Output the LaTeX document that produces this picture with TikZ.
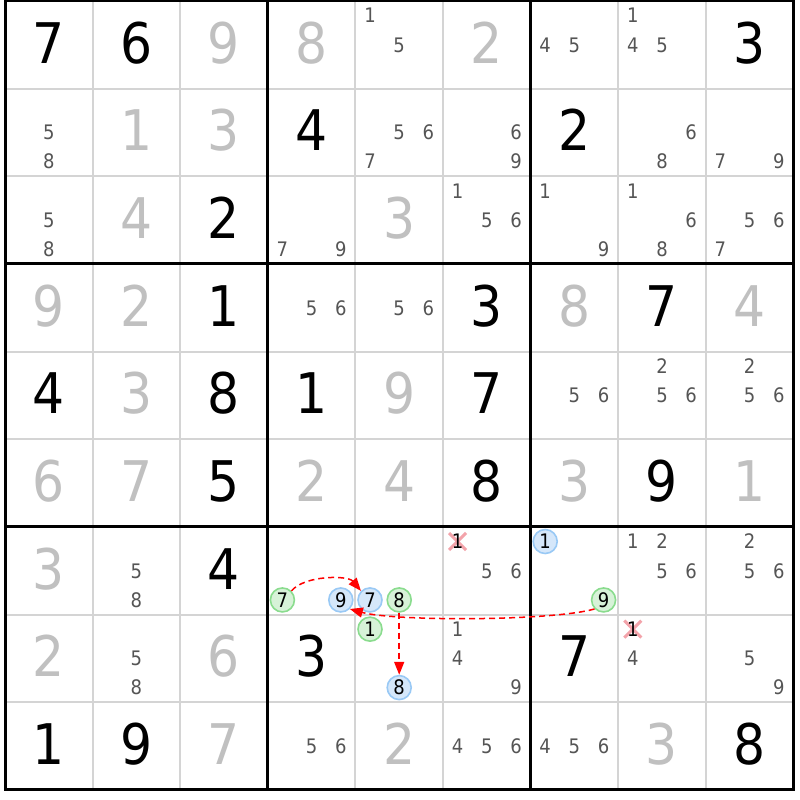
\documentclass[tikz,border=0pt]{standalone}
\usepackage{fontspec}
\setmainfont{DejaVu Sans Condensed}
\usetikzlibrary{arrows.meta,shapes.misc}

\definecolor{solvedgray}{HTML}{C0C0C0}
\definecolor{candgray}{HTML}{555555}
\definecolor{thingray}{HTML}{D4D4D4}
\definecolor{blueline}{HTML}{99C9F5}
\definecolor{bluefill}{HTML}{D5E7FA}
\definecolor{greenline}{HTML}{8ADC8E}
\definecolor{greenfill}{HTML}{D7F2D8}
\definecolor{crosspink}{HTML}{F3A3AA}

\tikzset{
  given/.style={inner sep=0pt, text height=40.8pt, text depth=0pt,
    font=\fontsize{56}{56}\selectfont, yshift=2pt},
  solved/.style={given, text=solvedgray},
  cand/.style={inner sep=0pt, text height=14.6pt, text depth=0pt,
    font=\fontsize{20}{20}\selectfont, text=candgray},
  ringcand/.style={cand, text=black, circle, minimum size=24pt, line width=1.6pt},
  bluecand/.style={ringcand, draw=blueline, fill=bluefill},
  greencand/.style={ringcand, draw=greenline, fill=greenfill},
  crossmark/.style={cross out, draw=crosspink, line width=3pt, inner sep=0pt, minimum size=14pt},
  link/.style={red, line width=1.5pt, dash pattern=on 6pt off 4pt,
    -{Triangle[length=13pt,width=10pt]}}
}

\begin{document}
\begin{tikzpicture}[x=1pt, y=-1pt]
    \useasboundingbox[fill=white] (0, 0) rectangle (800, 800);

    \begin{scope}[shift={(5pt,-1pt)}, x=87.6pt, y=-87.65pt]

    \foreach \i in {1,2,4,5,7,8} {
        \draw[thingray, line width=2pt] (\i, 0) -- (\i, 9);
        \draw[thingray, line width=2pt] (0, \i) -- (9, \i);
    }
    \foreach \i in {3,6} {
        \draw[line width=3pt] (\i, 0) -- (\i, 9);
        \draw[line width=3pt] (0, \i) -- (9, \i);
    }
    \draw[line width=3pt] (0, 0) rectangle (9, 9);

    \foreach \r/\c/\d in {0/0/7, 0/1/6, 0/8/3, 1/3/4, 1/6/2, 2/2/2, 3/2/1, 3/5/3,
        3/7/7, 4/0/4, 4/2/8, 4/3/1, 4/5/7, 5/2/5, 5/5/8, 5/7/9, 6/2/4, 7/3/3,
        7/6/7, 8/0/1, 8/1/9, 8/8/8}
        \node[given] (d-\r-\c) at (\c+0.5, \r+0.5) {\d};

    \foreach \r/\c/\d in {0/2/9, 0/3/8, 0/5/2, 1/1/1, 1/2/3, 2/1/4, 2/4/3, 3/0/9,
        3/1/2, 3/6/8, 3/8/4, 4/1/3, 4/4/9, 5/0/6, 5/1/7, 5/3/2, 5/4/4, 5/6/3,
        5/8/1, 6/0/3, 7/0/2, 7/2/6, 8/2/7, 8/4/2, 8/7/3}
        \node[solved] (d-\r-\c) at (\c+0.5, \r+0.5) {\d};

    % pencil marks
    \foreach \r/\c/\d in {0/4/1, 0/4/5, 0/6/4, 0/6/5, 0/7/1, 0/7/4, 0/7/5,
        1/0/5, 1/0/8, 1/4/5, 1/4/6, 1/4/7, 1/5/6, 1/5/9, 1/7/6, 1/7/8, 1/8/7, 1/8/9,
        2/0/5, 2/0/8, 2/3/7, 2/3/9, 2/5/1, 2/5/5, 2/5/6, 2/6/1, 2/6/9, 2/7/1,
        2/7/6, 2/7/8, 2/8/5, 2/8/6, 2/8/7,
        3/3/5, 3/3/6, 3/4/5, 3/4/6,
        4/6/5, 4/6/6, 4/7/2, 4/7/5, 4/7/6, 4/8/2, 4/8/5, 4/8/6,
        6/1/5, 6/1/8, 6/5/5, 6/5/6, 6/7/1, 6/7/2, 6/7/5, 6/7/6, 6/8/2, 6/8/5, 6/8/6,
        7/1/5, 7/1/8, 7/5/1, 7/5/4, 7/5/9, 7/7/4, 7/8/5, 7/8/9,
        8/3/5, 8/3/6, 8/5/4, 8/5/5, 8/5/6, 8/6/4, 8/6/5, 8/6/6}
        \node[cand] (n-\r-\c-\d) at ({\c+(2*mod(\d-1,3)+1)/6}, {\r+(2*floor((\d-1)/3)+1)/6}) {\d};

    \foreach \r/\c/\d in {6/5/1, 7/7/1} {
        \node[crossmark] (x-\r-\c) at ({\c+(2*mod(\d-1,3)+1)/6}, {\r+(2*floor((\d-1)/3)+1)/6}) {};
        \node[cand, text=black] (n-\r-\c-\d) at (x-\r-\c) {\d};
    }

    \foreach \r/\c/\d in {6/3/9, 6/4/7, 6/6/1, 7/4/8}
        \node[bluecand] (n-\r-\c-\d) at ({\c+(2*mod(\d-1,3)+1)/6}, {\r+(2*floor((\d-1)/3)+1)/6}) {\d};
    \foreach \r/\c/\d in {6/3/7, 6/4/8, 6/6/9, 7/4/1}
        \node[greencand] (n-\r-\c-\d) at ({\c+(2*mod(\d-1,3)+1)/6}, {\r+(2*floor((\d-1)/3)+1)/6}) {\d};

    \draw[link] (n-6-3-7.north east) .. controls +(0.15, -0.18) and +(-0.15, -0.18) .. (n-6-4-7.north west);
    \draw[link] (n-6-6-9.south west) .. controls +(-0.5, 0.14) and +(0.5, 0.14) .. (n-6-3-9.south east);
    \draw[link] (n-6-4-8.south) -- (n-7-4-8.north);

    \end{scope}
\end{tikzpicture}
\end{document}
